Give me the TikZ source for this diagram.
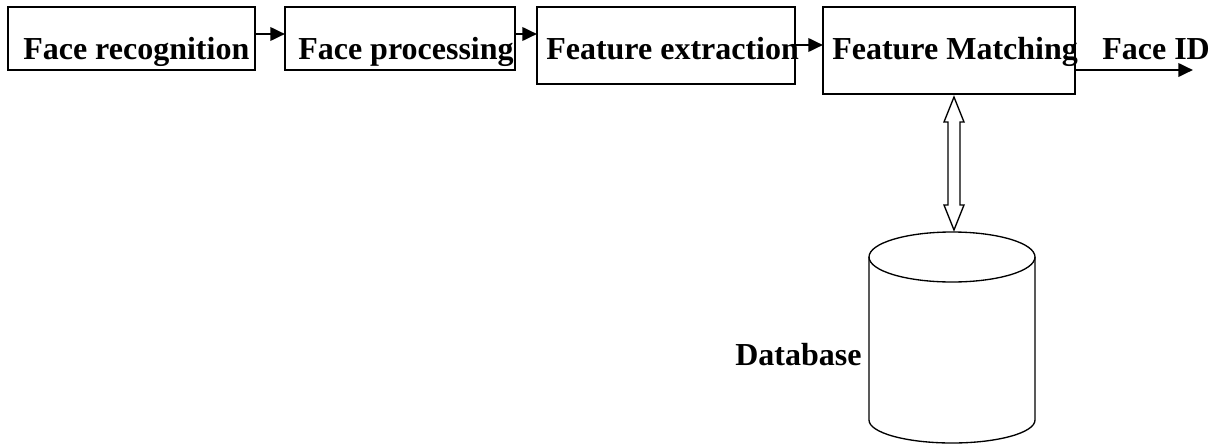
\documentclass[tikz,border=0pt]{standalone}
\usepackage{fontspec}
\setmainfont{Liberation Serif}
\usetikzlibrary{arrows.meta,calc,fit}
\begin{document}
\begin{tikzpicture}[x=0.75pt,y=-0.75pt,
  box/.style={draw,line width=1.5pt,inner sep=0pt,outer sep=0pt},
  lbl/.style={font=\fontsize{24}{28}\selectfont\bfseries,inner sep=0pt,anchor=base west},
  arr/.style={line width=2pt,-{Triangle[length=11pt,width=10pt]}},
  dbline/.style={line width=1pt}]
\useasboundingbox (0,0) rectangle (1216,446);
% boxes
\node[box,fit={(8,7) (255,70)}] (b1) {};
\node[box,fit={(285,7) (515,70)}] (b2) {};
\node[box,fit={(537,7) (795,84)}] (b3) {};
\node[box,fit={(823,7) (1075,94)}] (b4) {};
% labels
\node[lbl] (t1) at (23,59) {Face recognition};
\node[lbl] (t2) at (298,59) {Face processing};
\node[lbl] (t3) at (546,59) {Feature extraction};
\node[lbl] (t4) at (832,59) {Feature Matching};
\node[lbl] (t5) at (1102,59) {Face ID};
\node[lbl] (t6) at (735,365) {Database};
% arrows
\coordinate (r1) at (0,34);
\coordinate (r3) at (0,45);
\coordinate (r4) at (0,70);
\coordinate (out) at (1193,70);
\draw[arr] (b1.east |- r1) -- (b2.west |- r1);
\draw[arr] (b2.east |- r1) -- (b3.west |- r1);
\draw[arr] (b3.east |- r3) -- (b4.west |- r3);
\draw[arr] (b4.east |- r4) -- (out);
% double hollow arrow
\draw[dbline,line join=miter] (954,97) -- (964,122) -- (960,122) -- (960,205) -- (964,205) -- (954,230)
  -- (944,205) -- (948,205) -- (948,122) -- (944,122) -- cycle;
% database cylinder
\draw[dbline] (952,257) ellipse [x radius=83, y radius=25];
\draw[dbline] (869,257) -- (869,420) arc[start angle=180, end angle=0, x radius=83, y radius=23] -- (1035,257);
\end{tikzpicture}
\end{document}
